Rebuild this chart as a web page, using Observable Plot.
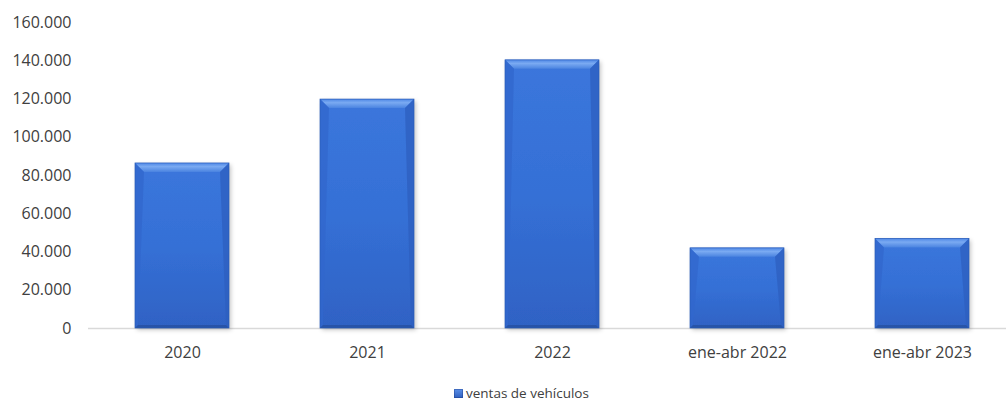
<!DOCTYPE html>
<html>
<head>
<meta charset="utf-8">
<script src="https://cdn.jsdelivr.net/npm/d3@7"></script>
<script src="https://cdn.jsdelivr.net/npm/@observablehq/plot@0.6"></script>
<style>
  html, body { margin: 0; padding: 0; background: #ffffff; overflow: hidden; }
  #wrap { position: relative; width: 1006px; height: 403px; }
  #legend { position: absolute; left: 454px; top: 386px; font-family: "Open Sans", sans-serif; font-size: 13.5px; line-height: 14px; color: #404040; white-space: nowrap; }
  #legend .sw { position: absolute; left: 0; top: 3px; width: 9px; height: 9px; background: linear-gradient(#5b90e8, #2f5fbf); box-shadow: inset 0 0 0 1px rgba(20,50,120,0.35); }
  #legend .lbl { position: absolute; left: 12px; top: 0; }
</style>
</head>
<body>
<div id="wrap">
  <div id="chart"></div>
  <div id="legend"><span class="sw"></span><span class="lbl"></span></div>
</div>
<script>
// ---- data ----
const categories = ["2020", "2021", "2022", "ene-abr 2022", "ene-abr 2023"];
const ventas = [86300, 119700, 140200, 41900, 46800];
const yTicks = [0, 20000, 40000, 60000, 80000, 100000, 120000, 140000, 160000];
const seriesName = "ventas de vehículos";

const data = categories.map((c, i) => ({cat: c, value: ventas[i]}));
const fmt = d3.formatLocale({decimal: ",", thousands: ".", grouping: [3], currency: ["", ""]}).format(",d");

const plot = Plot.plot({
  width: 1006,
  height: 372,
  marginTop: 22,
  marginBottom: 44,
  marginLeft: 88,
  marginRight: 0,
  style: {fontFamily: "Open Sans, sans-serif", fontSize: "16px", color: "#404040", background: "transparent"},
  x: {domain: categories, range: [88, 1016], paddingInner: 0.49, paddingOuter: 0.245, label: null, tickSize: 0, tickPadding: 18},
  y: {domain: [0, 160000], label: null, ticks: yTicks, tickFormat: fmt, tickSize: 0, tickPadding: 17},
  marks: [
    Plot.ruleY([0], {stroke: "#d9d9d9", strokeWidth: 1.5}),
    Plot.barY(data, {x: "cat", y: "value", fill: "#3870d6", inset: 0})
  ]
});
document.getElementById("chart").appendChild(plot);
document.querySelector("#legend .lbl").textContent = seriesName;

// ---- bar styling (gradient + bevel), based on the rects Plot drew ----
const svg = d3.select(plot);
const defs = svg.insert("defs", ":first-child");
const vg = defs.append("linearGradient").attr("id", "barBody").attr("x1", 0).attr("y1", 0).attr("x2", 0).attr("y2", 1);
[[0, "#3b76dc"], [0.5, "#3570d6"], [1, "#2f62c4"]].forEach(([o, c]) => vg.append("stop").attr("offset", o).attr("stop-color", c));
const tg = defs.append("linearGradient").attr("id", "bevTop").attr("x1", 0).attr("y1", 0).attr("x2", 0).attr("y2", 1);
[[0, "#4f88e6"], [0.4, "#7aaaf2"], [1, "#4a83e0"]].forEach(([o, c]) => tg.append("stop").attr("offset", o).attr("stop-color", c));
const f = defs.append("filter").attr("id", "shadow").attr("x", "-10%").attr("y", "-10%").attr("width", "130%").attr("height", "130%");
f.append("feDropShadow").attr("dx", 2).attr("dy", 2).attr("stdDeviation", 2).attr("flood-color", "#000").attr("flood-opacity", 0.22);

svg.selectAll("g[aria-label='bar']").each(function() {
  const g = d3.select(this);
  g.selectAll("rect").each(function() {
    const r = d3.select(this);
    const x = +r.attr("x"), y = +r.attr("y"), w = +r.attr("width"), h = +r.attr("height");
    const b = Math.min(9, h / 2);
    const s = Math.min(3, w / 2);
    r.attr("fill", "url(#barBody)").attr("filter", "url(#shadow)");
    // top bevel
    g.append("polygon").attr("points", `${x},${y} ${x + w},${y} ${x + w - b},${y + b} ${x + b},${y + b}`).attr("fill", "url(#bevTop)");
    // left bevel
    g.append("polygon").attr("points", `${x},${y} ${x + b},${y + b} ${x + s},${y + h - s} ${x},${y + h}`).attr("fill", "#3267cc").attr("opacity", 0.75);
    // right bevel
    g.append("polygon").attr("points", `${x + w},${y} ${x + w},${y + h} ${x + w - s},${y + h - s} ${x + w - b},${y + b}`).attr("fill", "#2d5fbf").attr("opacity", 0.75);
    // bottom bevel
    g.append("polygon").attr("points", `${x},${y + h} ${x + w},${y + h} ${x + w - s},${y + h - s} ${x + s},${y + h - s}`).attr("fill", "#2650a0").attr("opacity", 0.8);
    // thin outline
    g.append("rect").attr("x", x).attr("y", y).attr("width", w).attr("height", h).attr("fill", "none").attr("stroke", "#2a5cb8").attr("stroke-width", 0.7);
  });
});
</script>
</body>
</html>
